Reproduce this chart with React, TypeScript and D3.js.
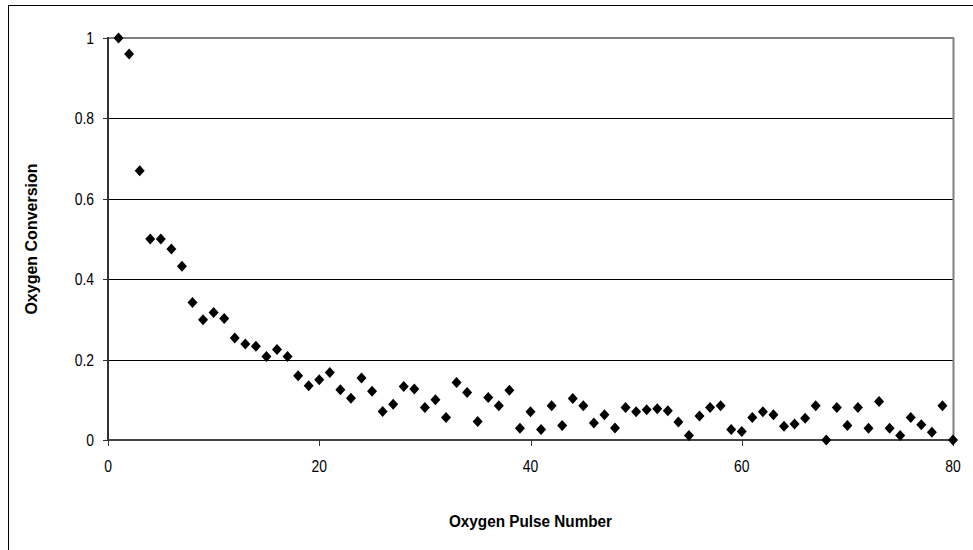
import * as d3 from 'd3';
import * as React from 'react';

// pulse number 1..80
const pulses: number[] = d3.range(1, 81);

// oxygen conversion per pulse
const conversion: number[] = [
  1.0, 0.96, 0.67, 0.5, 0.5, 0.475, 0.432, 0.342, 0.299, 0.317,
  0.302, 0.254, 0.239, 0.233, 0.208, 0.225, 0.208, 0.16, 0.135, 0.15,
  0.168, 0.125, 0.104, 0.154, 0.121, 0.071, 0.089, 0.133, 0.127, 0.081,
  0.1, 0.056, 0.143, 0.118, 0.046, 0.106, 0.085, 0.124, 0.029, 0.07,
  0.026, 0.085, 0.036, 0.103, 0.085, 0.042, 0.063, 0.03, 0.081, 0.07,
  0.075, 0.078, 0.073, 0.045, 0.011, 0.06, 0.081, 0.085, 0.026, 0.021,
  0.056, 0.07, 0.063, 0.034, 0.04, 0.054, 0.085, 0.0, 0.081, 0.036,
  0.081, 0.029, 0.096, 0.029, 0.011, 0.056, 0.038, 0.019, 0.085, 0.0,
];

const xTicks = [0, 20, 40, 60, 80];
const yTicks = [0, 0.2, 0.4, 0.6, 0.8, 1];

const W = 973;
const H = 550;
const left = 108;
const right = 953;
const top = 38;
const bottom = 440;

const tickFont = '"Liberation Sans", Arial, sans-serif';
const titleFont = '"Liberation Sans", Arial, sans-serif';

export default function App() {
  const x = d3.scaleLinear().domain([0, 80]).range([left, right]);
  const y = d3.scaleLinear().domain([0, 1]).range([bottom, top]);

  // excel-ish diamond marker
  const diamond = (cx: number, cy: number) =>
    `M${cx},${cy - 5.5}L${cx + 5},${cy}L${cx},${cy + 5.5}L${cx - 5},${cy}Z`;

  return (
    <svg width={W} height={H} style={{ position: 'absolute', left: 0, top: 0, background: '#fff' }}>
      <rect x={8.5} y={5.5} width={1000} height={600} fill="#fff" stroke="#000" strokeWidth={1} />

      {/* grid */}
      {yTicks.filter(t => t > 0 && t < 1).map(t => (
        <line key={'g' + t} x1={left} x2={right} y1={Math.round(y(t)) + 0.5} y2={Math.round(y(t)) + 0.5} stroke="#000" strokeWidth={1} />
      ))}

      {/* plot frame: top and right grey */}
      <line x1={left} x2={right + 1} y1={top} y2={top} stroke="#808080" strokeWidth={2} />
      <line x1={right + 0.5} x2={right + 0.5} y1={top} y2={bottom} stroke="#808080" strokeWidth={2} />

      {/* axes */}
      <line x1={left} x2={left} y1={top - 1} y2={bottom + 1} stroke="#333" strokeWidth={2} />
      <line x1={left} x2={right + 1} y1={bottom} y2={bottom} stroke="#444" strokeWidth={2} />

      {yTicks.map(t => (
        <g key={'y' + t}>
          <line x1={left - 5} x2={left} y1={Math.round(y(t)) + 0.5} y2={Math.round(y(t)) + 0.5} stroke="#333" />
          <text transform={`translate(${left - 14},${y(t) + 6}) scale(0.82,1)`} textAnchor="end" fontFamily={tickFont} fontSize={17} fill="#000">
            {String(t)}
          </text>
        </g>
      ))}

      {xTicks.map(t => (
        <g key={'x' + t}>
          <line x1={Math.round(x(t)) + 0.5} x2={Math.round(x(t)) + 0.5} y1={bottom} y2={bottom + 6} stroke="#333" />
          <text transform={`translate(${x(t)},${bottom + 32}) scale(0.82,1)`} textAnchor="middle" fontFamily={tickFont} fontSize={17} fill="#000">
            {t}
          </text>
        </g>
      ))}

      {pulses.map((p, i) => (
        <path key={'p' + p} d={diamond(x(p), y(conversion[i]))} fill="#000" />
      ))}

      <text transform={`translate(${(left + right) / 2},527) scale(0.9,1)`} textAnchor="middle" fontFamily={titleFont} fontWeight="bold" fontSize={17} fill="#000">
        Oxygen Pulse Number
      </text>
      <text transform={`translate(37,${(top + bottom) / 2}) rotate(-90)`} textAnchor="middle" fontFamily={titleFont} fontWeight="bold" fontSize={16} fill="#000">
        Oxygen Conversion
      </text>
    </svg>
  );
}
